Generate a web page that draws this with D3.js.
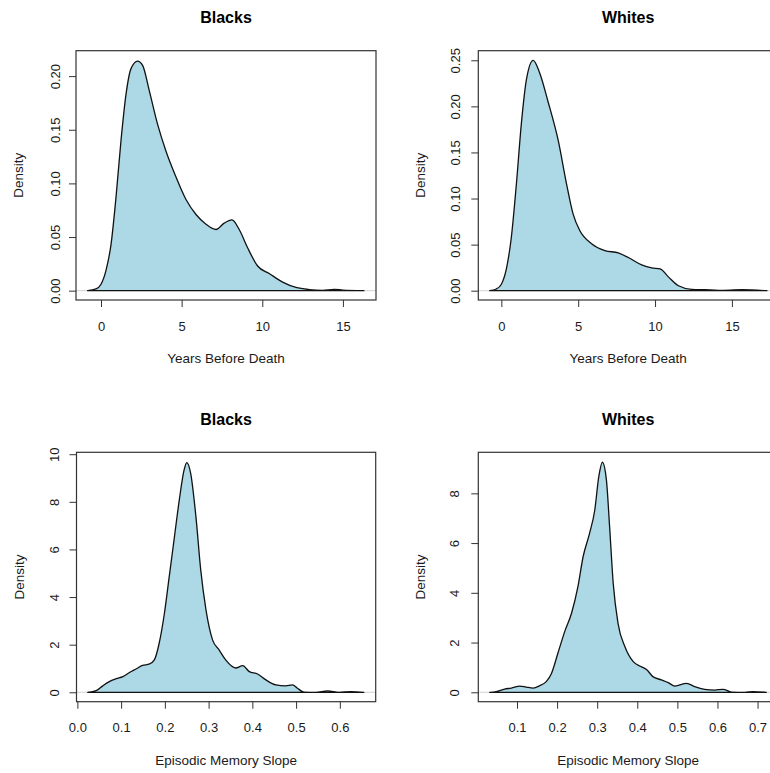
<!DOCTYPE html>
<html>
<head>
<meta charset="utf-8">
<script src="https://cdn.jsdelivr.net/npm/d3@7"></script>
<style>
    body { margin: 0; background: #fff; }
    svg { display: block; font-family: "Liberation Sans", Arial, sans-serif; }
</style>
</head>
<body>
<script>
"use strict";

// years before death, blacks
const yearsBlacksX = [-0.83, -0.31, 0, 0.31, 0.62, 0.93, 1.24, 1.55, 1.86, 2.27, 2.58, 3.0, 3.51, 4.03, 4.65, 5.27, 5.89, 6.51, 7.13, 7.64, 8.12, 8.57, 9.09, 9.71, 10.43, 11.26, 12.09, 12.91, 13.74, 14.46, 14.98, 16.3];
const yearsBlacksY = [0, 0.0016, 0.006, 0.019, 0.043, 0.087, 0.14, 0.183, 0.207, 0.214, 0.21, 0.186, 0.155, 0.13, 0.106, 0.085, 0.071, 0.062, 0.057, 0.063, 0.066, 0.057, 0.04, 0.023, 0.016, 0.008, 0.003, 0.001, 0.0003, 0.0012, 0.0006, 0];

// years before death, whites
const yearsWhitesX = [-0.76, -0.33, 0, 0.33, 0.65, 0.98, 1.30, 1.63, 2.07, 2.5, 3.04, 3.70, 4.24, 4.67, 5.11, 5.87, 6.74, 7.61, 8.26, 9.13, 9.78, 10.33, 10.87, 11.52, 12.39, 13.26, 14.13, 15.65, 17.28];
const yearsWhitesY = [0, 0.0018, 0.007, 0.024, 0.058, 0.116, 0.181, 0.229, 0.250, 0.236, 0.205, 0.163, 0.116, 0.083, 0.065, 0.051, 0.0435, 0.041, 0.036, 0.028, 0.0247, 0.0236, 0.015, 0.0054, 0.0015, 0.001, 0.0004, 0.001, 0];

// episodic memory slope, blacks
const slopeBlacksX = [0.0236, 0.043, 0.058, 0.073, 0.089, 0.104, 0.119, 0.134, 0.149, 0.164, 0.176, 0.187, 0.199, 0.210, 0.221, 0.233, 0.244, 0.250, 0.259, 0.271, 0.282, 0.294, 0.309, 0.324, 0.339, 0.362, 0.378, 0.393, 0.412, 0.431, 0.454, 0.476, 0.492, 0.503, 0.518, 0.545, 0.572, 0.598, 0.625, 0.655];
const slopeBlacksY = [0, 0.07, 0.27, 0.45, 0.57, 0.66, 0.83, 0.98, 1.13, 1.18, 1.36, 2.06, 3.32, 4.86, 6.40, 8.08, 9.34, 9.65, 9.2, 7.38, 5.14, 3.46, 2.20, 1.78, 1.36, 1.02, 1.12, 0.87, 0.77, 0.52, 0.31, 0.27, 0.31, 0.17, 0.01, 0, 0.06, 0, 0.03, 0];

// episodic memory slope, whites
const slopeWhitesX = [0.032, 0.048, 0.069, 0.086, 0.107, 0.123, 0.140, 0.157, 0.173, 0.186, 0.202, 0.219, 0.236, 0.252, 0.265, 0.281, 0.294, 0.304, 0.313, 0.323, 0.331, 0.340, 0.352, 0.369, 0.390, 0.410, 0.423, 0.439, 0.460, 0.477, 0.494, 0.523, 0.543, 0.568, 0.593, 0.614, 0.635, 0.668, 0.689, 0.722];
const slopeWhitesY = [0, 0.03, 0.13, 0.17, 0.25, 0.21, 0.17, 0.27, 0.43, 0.76, 1.57, 2.44, 3.18, 4.25, 5.46, 6.39, 7.33, 8.67, 9.25, 8.54, 6.66, 4.38, 2.77, 1.84, 1.23, 1.03, 0.92, 0.63, 0.50, 0.39, 0.25, 0.36, 0.23, 0.12, 0.09, 0.12, 0.01, 0, 0.03, 0];

// tick labels
const yearsTicks = [0, 5, 10, 15];
const yearsBlacksYTicks = [0, 0.05, 0.10, 0.15, 0.20];
const yearsWhitesYTicks = [0, 0.05, 0.10, 0.15, 0.20, 0.25];
const slopeBlacksXTicks = [0, 0.1, 0.2, 0.3, 0.4, 0.5, 0.6];
const slopeWhitesXTicks = [0.1, 0.2, 0.3, 0.4, 0.5, 0.6, 0.7];
const slopeBlacksYTicks = [0, 2, 4, 6, 8, 10];
const slopeWhitesYTicks = [0, 2, 4, 6, 8];

const titles = ["Blacks", "Whites", "Blacks", "Whites"];
const xLabels = ["Years Before Death", "Years Before Death", "Episodic Memory Slope", "Episodic Memory Slope"];

(function(){
    const measurements = { width: 770, height: 773 }

    const svg = d3.select("body").append("svg")
        .attr("width", measurements.width)
        .attr("height", measurements.height)

    // panel boxes and axis ranges
    const panels = [
        { box: [76, 376, 50.7, 300], xDom: [-1.55, 17.05], yDom: [-0.0087, 0.2237],
          xs: yearsBlacksX, ys: yearsBlacksY, xTicks: yearsTicks, yTicks: yearsBlacksYTicks,
          xFmt: d3.format("d"), yFmt: d3.format(".2f"), yLabOff: 16.5 },
        { box: [478.3, 778, 50.7, 300], xDom: [-1.50, 18.0], yDom: [-0.0101, 0.2604],
          xs: yearsWhitesX, ys: yearsWhitesY, xTicks: yearsTicks, yTicks: yearsWhitesYTicks,
          xFmt: d3.format("d"), yFmt: d3.format(".2f"), yLabOff: 18 },
        { box: [76.5, 375.7, 452.3, 701.7], xDom: [-0.002, 0.682], yDom: [-0.395, 10.08],
          xs: slopeBlacksX, ys: slopeBlacksY, xTicks: slopeBlacksXTicks, yTicks: slopeBlacksYTicks,
          xFmt: d3.format(".1f"), yFmt: d3.format("d"), yLabOff: 18 },
        { box: [478.3, 778, 452.3, 701.7], xDom: [0.0035, 0.751], yDom: [-0.378, 9.65],
          xs: slopeWhitesX, ys: slopeWhitesY, xTicks: slopeWhitesXTicks, yTicks: slopeWhitesYTicks,
          xFmt: d3.format(".1f"), yFmt: d3.format("d"), yLabOff: 19 }
    ]

    panels.forEach((p, i) => drawPanel(p, i))

    function drawPanel(p, i) {
        const [x0, x1, y0, y1] = p.box
        const scaleX = d3.scaleLinear().domain(p.xDom).range([x0, x1])
        const scaleY = d3.scaleLinear().domain(p.yDom).range([y1, y0])
        const pts = p.xs.map((x, j) => [x, p.ys[j]])

        // grey zero line like plot.density
        svg.append("line")
            .attr("x1", x0).attr("x2", x1)
            .attr("y1", scaleY(0)).attr("y2", scaleY(0))
            .attr("stroke", "#c8c8c8")
            .attr("stroke-width", 0.8)

        // filled density polygon
        const area = d3.area()
            .x(d => scaleX(d[0]))
            .y0(scaleY(0))
            .y1(d => scaleY(d[1]))
            .curve(d3.curveMonotoneX)
        svg.append("path")
            .datum(pts)
            .attr("d", area)
            .attr("fill", "#ADD8E6")
            .attr("stroke", "#111")
            .attr("stroke-width", 1.3)
            .attr("stroke-linejoin", "round")

        // box
        svg.append("rect")
            .attr("x", x0).attr("y", y0)
            .attr("width", x1 - x0).attr("height", y1 - y0)
            .attr("fill", "none")
            .attr("stroke", "#333")
            .attr("stroke-width", 1.2)

        // axes
        const xAxis = svg.append("g")
            .attr("transform", `translate(0,${y1})`)
            .call(d3.axisBottom(scaleX).tickValues(p.xTicks).tickFormat(p.xFmt).tickSize(7))
        xAxis.select(".domain").remove()
        xAxis.selectAll("line").attr("stroke", "#333")
        xAxis.selectAll("text")
            .attr("y", 30.5).attr("dy", null)
            .style("font-size", "13px").attr("fill", "#1a1a1a")

        const yAxis = svg.append("g")
            .attr("transform", `translate(${x0},0)`)
            .call(d3.axisLeft(scaleY).tickValues(p.yTicks).tickFormat(p.yFmt).tickSize(7))
        yAxis.select(".domain").remove()
        yAxis.selectAll("line").attr("stroke", "#333")
        yAxis.selectAll("text")
            .attr("x", null).attr("dy", null)
            .attr("text-anchor", "middle")
            .attr("transform", `translate(${-p.yLabOff},0)rotate(-90)`)
            .style("font-size", "13px").attr("fill", "#1a1a1a")

        // title and labels
        svg.append("text")
            .attr("x", (x0 + x1) / 2)
            .attr("y", y0 - 27.4)
            .attr("text-anchor", "middle")
            .style("font-size", "16px")
            .style("font-weight", "bold")
            .text(titles[i])
        svg.append("text")
            .attr("x", (x0 + x1) / 2)
            .attr("y", y1 + 63.3)
            .attr("text-anchor", "middle")
            .style("font-size", "13.5px")
            .attr("fill", "#1a1a1a")
            .text(xLabels[i])
        svg.append("text")
            .attr("transform", `translate(${x0 - 53},${(y0 + y1) / 2})rotate(-90)`)
            .attr("text-anchor", "middle")
            .style("font-size", "13.5px")
            .attr("fill", "#1a1a1a")
            .text("Density")
    }
})()
</script>
</body>
</html>
